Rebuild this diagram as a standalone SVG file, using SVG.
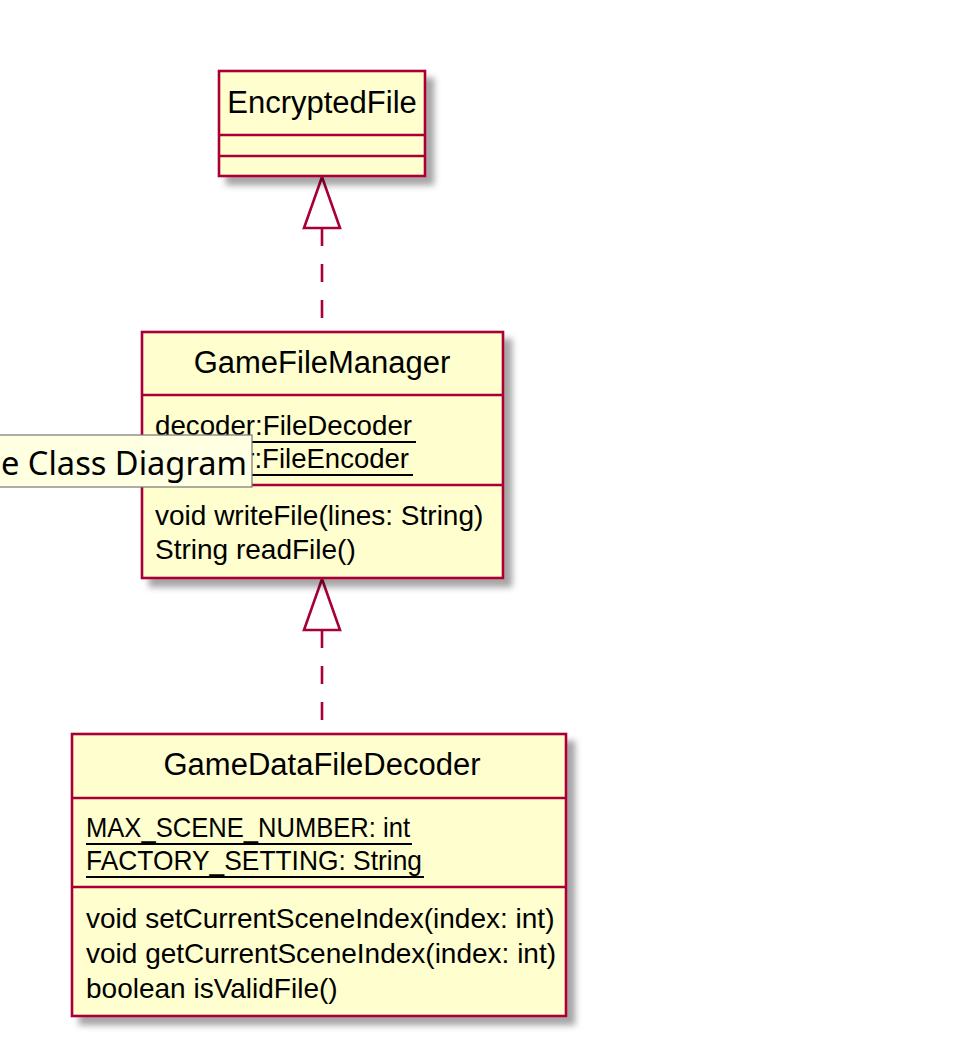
<svg xmlns="http://www.w3.org/2000/svg" width="965" height="1045" viewBox="0 0 965 1045">
<style>
.box{fill:#FEFECE;stroke:#A80036;stroke-width:2.6}
.div{stroke:#A80036;stroke-width:2.6}
.hdr{font-family:"Liberation Sans",Arial,sans-serif;font-size:31px;fill:#000;text-anchor:middle}
.txt{font-family:"Liberation Sans",Arial,sans-serif;font-size:28px;fill:#000}
.ul{stroke:#000;stroke-width:2.2}
.edge{stroke:#A80036;stroke-width:2.6;fill:none;stroke-dasharray:18,18}
.head{fill:#fff;stroke:#A80036;stroke-width:2.6}
.tip{font-family:"Noto Sans","Open Sans",sans-serif;font-size:32px;fill:#000}
</style>
<defs>
<filter id="sh" x="-10%" y="-10%" width="130%" height="130%">
<feGaussianBlur in="SourceAlpha" stdDeviation="3"/>
<feOffset dx="8" dy="8" result="b"/>
<feFlood flood-color="#000" flood-opacity="0.35"/>
<feComposite in2="b" operator="in"/>
<feMerge><feMergeNode/><feMergeNode in="SourceGraphic"/></feMerge>
</filter>
</defs>
<rect width="965" height="1045" fill="#fff"/>
<g id="connectors">
<line class="edge" x1="322" y1="228" x2="322" y2="331"/>
<polygon class="head" points="322,177 304,228 340,228"/>
<line class="edge" x1="322" y1="630" x2="322" y2="733"/>
<polygon class="head" points="322,579 304,630 340,630"/>
</g>
<g id="EncryptedFile">
<rect class="box" x="219" y="71" width="206" height="105" filter="url(#sh)"/>
<line class="div" x1="219" y1="135" x2="425" y2="135"/>
<line class="div" x1="219" y1="156" x2="425" y2="156"/>
<text class="hdr" x="322" y="113">EncryptedFile</text>
</g>
<g id="GameFileManager">
<rect class="box" x="142" y="332" width="361" height="246" filter="url(#sh)"/>
<line class="div" x1="142" y1="395" x2="503" y2="395"/>
<line class="div" x1="142" y1="485" x2="503" y2="485"/>
<text class="hdr" x="322" y="373">GameFileManager</text>
<text class="txt" x="155" y="435" textLength="257" lengthAdjust="spacingAndGlyphs">decoder:FileDecoder</text>
<line class="ul" x1="155" y1="442" x2="416" y2="442"/>
<text class="txt" x="155" y="468" textLength="254" lengthAdjust="spacingAndGlyphs">encoder:FileEncoder</text>
<line class="ul" x1="155" y1="475" x2="413" y2="475"/>
<text class="txt" x="155" y="525">void writeFile(lines: String)</text>
<text class="txt" x="155" y="559">String readFile()</text>
</g>
<g id="GameDataFileDecoder">
<rect class="box" x="72" y="734" width="494" height="282" filter="url(#sh)"/>
<line class="div" x1="72" y1="798" x2="566" y2="798"/>
<line class="div" x1="72" y1="887" x2="566" y2="887"/>
<text class="hdr" x="322" y="775">GameDataFileDecoder</text>
<text class="txt" x="86" y="837" textLength="324" lengthAdjust="spacingAndGlyphs">MAX_SCENE_NUMBER: int</text>
<line class="ul" x1="86" y1="844" x2="412" y2="844"/>
<text class="txt" x="86" y="870" textLength="336" lengthAdjust="spacingAndGlyphs">FACTORY_SETTING: String</text>
<line class="ul" x1="86" y1="877" x2="424" y2="877"/>
<text class="txt" x="86" y="928">void setCurrentSceneIndex(index: int)</text>
<text class="txt" x="86" y="963">void getCurrentSceneIndex(index: int)</text>
<text class="txt" x="86" y="998">boolean isValidFile()</text>
</g>
<g id="tooltip">
<rect x="-5" y="435" width="257" height="52" fill="#FFFFE1" stroke="#767676" stroke-width="1.2"/>
<text class="tip" x="1" y="475" textLength="246" lengthAdjust="spacingAndGlyphs">e Class Diagram</text>
</g>
</svg>
